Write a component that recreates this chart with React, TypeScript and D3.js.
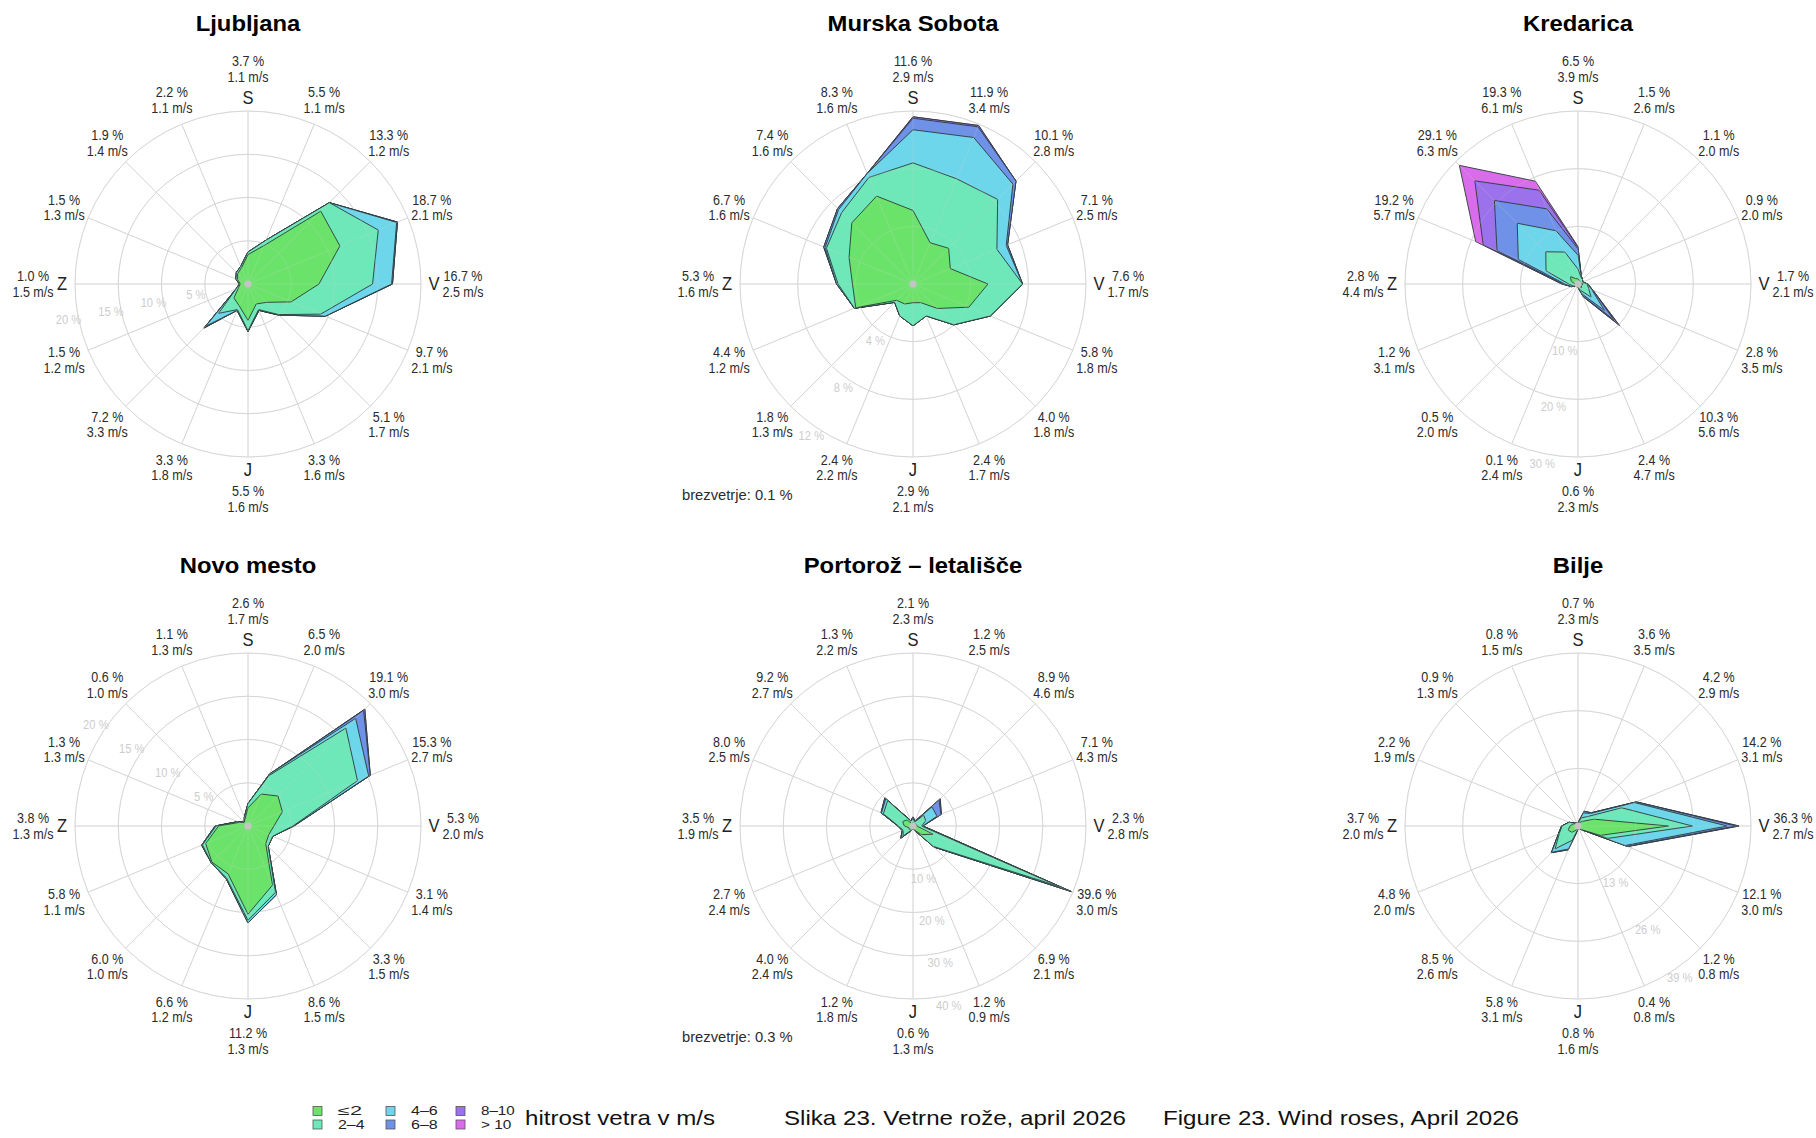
import React from 'react';
import * as d3 from 'd3';

// Direction order: N, NNE, NE, ENE, E, ESE, SE, SSE, S, SSW, SW, WSW, W, WNW, NW, NNW
const cardinalLetters = ['S', 'V', 'J', 'Z'];
const speedClasses = ['≤2', '2–4', '4–6', '6–8', '8–10', '> 10'];
const classColors = ['#6be36a', '#6ee8b9', '#6dd6ea', '#6f91e8', '#9b71ec', '#d96ceb'];

// ---------- Ljubljana ----------
const ljubljanaPct = [3.7, 5.5, 13.3, 18.7, 16.7, 9.7, 5.1, 3.3, 5.5, 3.3, 7.2, 1.5, 1.0, 1.5, 1.9, 2.2];
const ljubljanaSpeed = [1.1, 1.1, 1.2, 2.1, 2.5, 2.1, 1.7, 1.6, 1.6, 1.8, 3.3, 1.2, 1.5, 1.3, 1.4, 1.1];
const ljubljanaCum = [
  [3.4, 4.8, 11.9, 11.5, 8.2, 5.4, 3.0, 2.5, 4.2, 2.7, 2.3, 1.2, 0.9, 1.3, 1.7, 2.0],
  [3.7, 5.5, 13.3, 16.3, 14.4, 9.1, 5.0, 3.2, 5.4, 3.2, 4.8, 1.5, 1.0, 1.5, 1.9, 2.2],
  [3.7, 5.5, 13.3, 18.6, 16.6, 9.7, 5.1, 3.3, 5.5, 3.3, 6.9, 1.5, 1.0, 1.5, 1.9, 2.2],
  [3.7, 5.5, 13.3, 18.7, 16.7, 9.7, 5.1, 3.3, 5.5, 3.3, 7.2, 1.5, 1.0, 1.5, 1.9, 2.2],
];

// ---------- Murska Sobota ----------
const murskaPct = [11.6, 11.9, 10.1, 7.1, 7.6, 5.8, 4.0, 2.4, 2.9, 2.4, 1.8, 4.4, 5.3, 6.7, 7.4, 8.3];
const murskaSpeed = [2.9, 3.4, 2.8, 2.5, 1.7, 1.8, 1.8, 1.7, 2.1, 2.2, 1.3, 1.2, 1.6, 1.6, 1.6, 1.6];
const murskaCum = [
  [5.1, 3.1, 3.5, 2.8, 5.2, 4.2, 2.4, 1.4, 1.3, 1.5, 1.6, 4.3, 4.2, 4.8, 6.0, 6.6],
  [8.4, 7.9, 8.3, 6.3, 7.6, 5.8, 4.0, 2.4, 2.9, 2.4, 1.8, 4.4, 5.2, 6.5, 7.0, 8.0],
  [10.7, 11.0, 9.8, 7.0, 7.6, 5.8, 4.0, 2.4, 2.9, 2.4, 1.8, 4.4, 5.3, 6.6, 7.3, 8.3],
  [11.5, 11.8, 10.1, 7.1, 7.6, 5.8, 4.0, 2.4, 2.9, 2.4, 1.8, 4.4, 5.3, 6.7, 7.4, 8.3],
];

// ---------- Kredarica ----------
const kredaricaPct = [6.5, 1.5, 1.1, 0.9, 1.7, 2.8, 10.3, 2.4, 0.6, 0.1, 0.5, 1.2, 2.8, 19.2, 29.1, 19.3];
const kredaricaSpeed = [3.9, 2.6, 2.0, 2.0, 2.1, 3.5, 5.6, 4.7, 2.3, 2.4, 2.0, 3.1, 4.4, 5.7, 6.3, 6.1];
const kredaricaCum = [
  [0.9, 0.6, 0.6, 0.5, 0.9, 0.6, 0.9, 0.3, 0.3, 0.1, 0.3, 0.4, 0.5, 1.3, 1.8, 1.0],
  [2.6, 1.3, 1.1, 0.9, 1.6, 2.0, 3.2, 1.2, 0.6, 0.1, 0.5, 0.9, 1.6, 6.0, 7.9, 6.0],
  [5.0, 1.5, 1.1, 0.9, 1.7, 2.6, 6.5, 1.9, 0.6, 0.1, 0.5, 1.2, 2.3, 11.2, 14.9, 10.0],
  [6.1, 1.5, 1.1, 0.9, 1.7, 2.8, 8.8, 2.3, 0.6, 0.1, 0.5, 1.2, 2.6, 15.2, 20.5, 14.1],
  [6.4, 1.5, 1.1, 0.9, 1.7, 2.8, 9.9, 2.4, 0.6, 0.1, 0.5, 1.2, 2.8, 17.8, 25.3, 17.6],
];

// ---------- Novo mesto ----------
const novoPct = [2.6, 6.5, 19.1, 15.3, 5.3, 3.1, 3.3, 8.6, 11.2, 6.6, 6.0, 5.8, 3.8, 1.3, 0.6, 1.1];
const novoSpeed = [1.7, 2.0, 3.0, 2.7, 2.0, 1.4, 1.5, 1.5, 1.3, 1.2, 1.0, 1.1, 1.3, 1.3, 1.0, 1.3];
const novoCum = [
  [2.1, 4.0, 4.9, 4.3, 3.0, 2.6, 2.9, 7.4, 10.2, 6.0, 5.9, 5.3, 3.4, 1.1, 0.6, 0.9],
  [2.6, 6.3, 16.0, 13.7, 5.2, 3.1, 3.3, 8.3, 10.9, 6.5, 6.0, 5.7, 3.7, 1.3, 0.6, 1.1],
  [2.6, 6.5, 17.6, 15.1, 5.3, 3.1, 3.3, 8.6, 11.2, 6.6, 6.0, 5.8, 3.8, 1.3, 0.6, 1.1],
  [2.6, 6.5, 18.9, 15.3, 5.3, 3.1, 3.3, 8.6, 11.2, 6.6, 6.0, 5.8, 3.8, 1.3, 0.6, 1.1],
];

// ---------- Portorož – letališče ----------
const portorozPct = [2.1, 1.2, 8.9, 7.1, 2.3, 39.6, 6.9, 1.2, 0.6, 1.2, 4.0, 2.7, 3.5, 8.0, 9.2, 1.3];
const portorozSpeed = [2.3, 2.5, 4.6, 4.3, 2.8, 3.0, 2.1, 0.9, 1.3, 1.8, 2.4, 2.4, 1.9, 2.5, 2.7, 2.2];
const portorozCum = [
  [0.8, 0.5, 0.8, 0.9, 0.9, 5.0, 2.8, 1.1, 0.4, 0.5, 1.2, 1.0, 2.0, 2.6, 2.0, 0.5],
  [1.7, 1.0, 3.5, 3.2, 2.0, 36.5, 6.7, 1.2, 0.6, 1.1, 3.2, 2.5, 3.4, 7.4, 8.3, 1.2],
  [2.0, 1.2, 6.2, 6.0, 2.3, 39.2, 6.9, 1.2, 0.6, 1.2, 3.8, 2.7, 3.5, 7.9, 8.9, 1.3],
  [2.1, 1.2, 8.5, 7.0, 2.3, 39.6, 6.9, 1.2, 0.6, 1.2, 4.0, 2.7, 3.5, 8.0, 9.2, 1.3],
];

// ---------- Bilje ----------
const biljePct = [0.7, 3.6, 4.2, 14.2, 36.3, 12.1, 1.2, 0.4, 0.8, 5.8, 8.5, 4.8, 3.7, 2.2, 0.9, 0.8];
const biljeSpeed = [2.3, 3.5, 2.9, 3.1, 2.7, 3.0, 0.8, 0.8, 1.6, 3.1, 2.6, 2.0, 2.0, 1.9, 1.3, 1.5];
const biljeCum = [
  [0.3, 0.8, 1.5, 4.0, 20.4, 5.5, 1.2, 0.4, 0.5, 1.0, 2.0, 2.4, 1.8, 1.2, 0.7, 0.6],
  [0.6, 2.0, 3.0, 10.7, 25.8, 7.3, 1.2, 0.4, 0.7, 3.5, 7.3, 4.6, 3.6, 2.2, 0.9, 0.8],
  [0.7, 3.2, 4.0, 13.8, 33.6, 11.5, 1.2, 0.4, 0.8, 5.6, 8.4, 4.8, 3.7, 2.2, 0.9, 0.8],
  [0.7, 3.6, 4.2, 14.2, 35.6, 12.0, 1.2, 0.4, 0.8, 5.8, 8.5, 4.8, 3.7, 2.2, 0.9, 0.8],
];

const stations = [
  { name: 'Ljubljana', pct: ljubljanaPct, speed: ljubljanaSpeed, cum: ljubljanaCum, step: 5, rings: 4, labelAngle: 258.75, calm: null },
  { name: 'Murska Sobota', pct: murskaPct, speed: murskaSpeed, cum: murskaCum, step: 4, rings: 3, labelAngle: 213.75, calm: 'brezvetrje: 0.1 %' },
  { name: 'Kredarica', pct: kredaricaPct, speed: kredaricaSpeed, cum: kredaricaCum, step: 10, rings: 3, labelAngle: 191.25, calm: null },
  { name: 'Novo mesto', pct: novoPct, speed: novoSpeed, cum: novoCum, step: 5, rings: 4, labelAngle: 303.75, calm: null },
  { name: 'Portorož – letališče', pct: portorozPct, speed: portorozSpeed, cum: portorozCum, step: 10, rings: 4, labelAngle: 168.75, calm: 'brezvetrje: 0.3 %' },
  { name: 'Bilje', pct: biljePct, speed: biljeSpeed, cum: biljeCum, step: 13, rings: 3, labelAngle: 146.25, calm: null },
];

const FONT = "'Liberation Sans', Arial, Helvetica, sans-serif";
const R = 173;
const colX = [248, 913, 1578];
const rowY = [284, 826];
const TXT = '#2b2b2b';
const LBL_SIZE = 14.6;
const LBL_SX = 0.86;

function Label({ x, y, children, size = LBL_SIZE, sx = LBL_SX, anchor = 'middle', fill = TXT }: any) {
  return (
    <text
      transform={`translate(${x},${y}) scale(${sx},1)`}
      textAnchor={anchor}
      dominantBaseline="central"
      fontSize={size}
      fill={fill}
    >
      {children}
    </text>
  );
}

function Rose({ st, cx, cy }: any) {
  const max = st.step * st.rings;
  const r = d3.scaleLinear().domain([0, max]).range([0, R]);
  const ang = d3.scaleLinear().domain([0, 16]).range([0, 2 * Math.PI]);
  const line = d3
    .lineRadial<number>()
    .angle((_d, i) => ang(i))
    .radius((d) => r(d))
    .curve(d3.curveLinearClosed);
  const layers: number[][] = [];
  for (let k = 0; k < 6; k++) layers.push(k < st.cum.length ? st.cum[k] : st.pct);
  const pos = (i: number, rad: number) => {
    const a = ang(i);
    return [rad * Math.sin(a), -rad * Math.cos(a)];
  };
  const ringVals = d3.range(1, st.rings + 1).map((k) => k * st.step);
  const dirs = d3.range(16);
  const grid = (op: number) => (
    <g opacity={op}>
      {ringVals.map((v) => (
        <circle key={v} r={r(v)} fill="none" stroke="#d6d6d6" strokeWidth={1} />
      ))}
      {dirs.map((i) => {
        const [x, y] = pos(i, R);
        return <line key={i} x1={0} y1={0} x2={x} y2={y} stroke="#d6d6d6" strokeWidth={1} />;
      })}
    </g>
  );
  const la = (st.labelAngle * Math.PI) / 180;
  return (
    <g transform={`translate(${cx},${cy})`} fontFamily={FONT}>
      <text transform={`translate(0,-253) scale(1.06,1)`} textAnchor="middle" fontSize={22.5} fontWeight="bold" fill="#000">
        {st.name}
      </text>
      {grid(1)}
      {layers
        .map((vals, k) => ({ vals, k }))
        .reverse()
        .map(({ vals, k }) => (
          <path key={k} d={line(vals) || ''} fill={classColors[k]} stroke="#2e3a3a" strokeWidth={0.9} strokeLinejoin="miter" />
        ))}
      {grid(0.22)}
      <circle r={3.5} fill="#c4c4c4" />
      {ringVals.map((v) => {
        const rr = r(v) + 10;
        return (
          <Label key={v} x={rr * Math.sin(la)} y={-rr * Math.cos(la)} size={13} fill="#cdcdcd">
            {`${v} %`}
          </Label>
        );
      })}
      {dirs.map((i) => {
        const card = i % 4 === 0;
        const [bx, by] = pos(i, card ? R + 42 : R + 26);
        return (
          <g key={i}>
            <Label x={bx} y={by - 7.8}>{`${st.pct[i].toFixed(1)} %`}</Label>
            <Label x={bx} y={by + 7.8}>{`${st.speed[i].toFixed(1)} m/s`}</Label>
          </g>
        );
      })}
      {cardinalLetters.map((c, j) => {
        const [x, y] = pos(j * 4, R + 13);
        return (
          <Label key={c} x={x} y={y} size={18} sx={0.92} fill="#222">
            {c}
          </Label>
        );
      })}
      {st.calm && (
        <Label x={-231} y={210} anchor="start" size={15.2} sx={0.97}>
          {st.calm}
        </Label>
      )}
    </g>
  );
}

const legendCols = [313, 386, 456];
const legendRows = [1111, 1124.5];
const legendTextLen = [24, 26.6, 26.7, 26.7, 33.7, 30.3];

export default function App() {
  return (
    <svg width={1816} height={1138} style={{ position: 'absolute', left: 0, top: 0, background: '#fff' }} fontFamily={FONT}>
      <rect width={1816} height={1138} fill="#fff" />
      {stations.map((st, i) => (
        <Rose key={st.name} st={st} cx={colX[i % 3]} cy={rowY[Math.floor(i / 3)]} />
      ))}
      {speedClasses.map((lab, k) => {
        const col = Math.floor(k / 2);
        const row = k % 2;
        const x = legendCols[col];
        const y = legendRows[row];
        return (
          <g key={lab}>
            <rect x={x} y={y - 4.5} width={9} height={9} fill={classColors[k]} stroke="#555" strokeWidth={0.8} />
            <text x={x + 25} y={y} dominantBaseline="central" fontSize={12.5} fill="#222" textLength={legendTextLen[k]} lengthAdjust="spacingAndGlyphs">
              {lab}
            </text>
          </g>
        );
      })}
      <text x={525} y={1125} fontSize={21} fill="#111" textLength={190} lengthAdjust="spacingAndGlyphs">hitrost vetra v m/s</text>
      <text x={784} y={1125} fontSize={21} fill="#111" textLength={342} lengthAdjust="spacingAndGlyphs">Slika 23. Vetrne rože, april 2026</text>
      <text x={1163} y={1125} fontSize={21} fill="#111" textLength={356} lengthAdjust="spacingAndGlyphs">Figure 23. Wind roses, April 2026</text>
    </svg>
  );
}
